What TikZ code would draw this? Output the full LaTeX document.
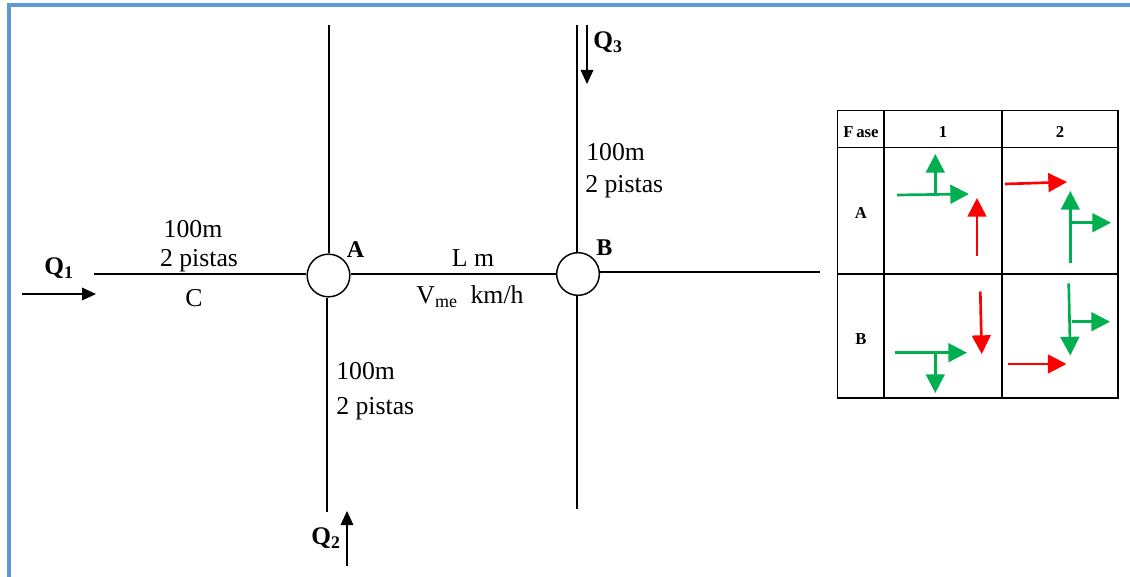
\documentclass[tikz,border=0pt]{standalone}
\usepackage{fontspec}
\setmainfont{Liberation Serif}
\usetikzlibrary{arrows.meta}
\definecolor{framecol}{HTML}{5B9BD5}
\definecolor{gocol}{HTML}{00B050}
\definecolor{stopcol}{HTML}{FF0000}
\tikzset{
	junction/.style 2 args={circle,draw,line width=1.1pt,minimum size=32pt,inner sep=0pt,label={[label distance=-2pt,font=\fontsize{18}{19}\selectfont\bfseries]#1:{#2}}},
	road/.style={line width=1.1pt},
	flow/.style={line width=0.9pt,-{Triangle[length=10.5pt,width=9.5pt]}},
	txt/.style={font=\fontsize{19.3}{20}\selectfont,inner sep=0pt},
	qtxt/.style={font=\fontsize{19}{20}\selectfont\bfseries,inner sep=0pt},
	cell/.style 2 args={draw,line width=0.9pt,minimum width=#1,minimum height=#2,inner sep=0pt,text height=12.5pt,text depth=0pt,font=\fontsize{12.5}{13}\selectfont\bfseries},
	garrow/.style={draw=gocol,line width=2pt,-{Triangle[length=14pt,width=14pt]}},
	rarrow/.style={draw=stopcol,line width=2pt,-{Triangle[length=14pt,width=14pt]}}
}

\begin{document}
\begin{tikzpicture}[x=0.75pt,y=-0.75pt]
	\useasboundingbox (0,0) rectangle (1130,577);
	\draw[framecol,line width=3pt] (9,577) -- (9,5) -- (1130,5);

	\node [junction={45}{A}] (A) at (328.5,275.5) {};
	\node [junction={45}{B}] (B) at (578,274) {};

	\coordinate (west) at (94,274);
	\coordinate (northA) at (329,25);
	\coordinate (southA) at (327,512);
	\coordinate (northB) at (577,25);
	\coordinate (southB) at (577,509);
	\coordinate (east) at (820,272);

	\draw[road] (west) -- (A.west |- west);
	\draw[road] (A.east |- B.west) -- (B.west);
	\draw[road] (B.east |- east) -- (east);
	\draw[road] (northA) -- (northA |- A.north);
	\draw[road] (southA |- A.south) -- (southA);
	\draw[road] (northB) -- (northB |- B.north);
	\draw[road] (southB |- B.south) -- (southB);

	\coordinate (q1a) at (22,294);
	\coordinate (q1b) at (96,294);
	\coordinate (q2a) at (347,566);
	\coordinate (q2b) at (347,511);
	\coordinate (q3a) at (587,25);
	\coordinate (q3b) at (587,84);
	\draw[flow] (q1a) -- (q1b);
	\draw[flow] (q2a) -- (q2b);
	\draw[flow] (q3a) -- (q3b);

	\node [qtxt] (q1) at (59,268) {Q\textsubscript{1}};
	\node [qtxt] (q2) at (326,538) {Q\textsubscript{2}};
	\node [qtxt] (q3) at (608,42) {Q\textsubscript{3}};

	\node [txt] (west1) at (193,229) {100m};
	\node [txt] (west2) at (199,261) {2 pistas};
	\node [txt] (westc) at (194,298) {C};
	\node [txt] (mid1) at (473,258) {L m};
	\node [txt] (mid2) at (470,297) {V\textsubscript{me}\ \ km/h};
	\node [txt,anchor=west] (north1) at (586,152) {100m};
	\node [txt,anchor=west] (north2) at (585,187) {2 pistas};
	\node [txt,anchor=west] (south1) at (336,371) {100m};
	\node [txt,anchor=west] (south2) at (336,409) {2 pistas};

	% fases
	\node [cell={35pt}{27.5pt}] (fase) at (861,129) {F\,ase};
	\node [cell={88.5pt}{27.5pt}] (col1) at (943,129) {1};
	\node [cell={87pt}{27.5pt}] (col2) at (1060,129) {2};
	\node [cell={35pt}{95pt}] (rowA) at (861,210.5) {A};
	\node [cell={88.5pt}{95pt}] (a1) at (943,210.5) {};
	\node [cell={87pt}{95pt}] (a2) at (1060,210.5) {};
	\node [cell={35pt}{93pt}] (rowB) at (861,336) {B};
	\node [cell={88.5pt}{93pt}] (b1) at (943,336) {};
	\node [cell={87pt}{93pt}] (b2) at (1060,336) {};

	\coordinate (a1g) at (897,195);
	\coordinate (a1h) at (969,194);
	\coordinate (a1i) at (935.3,194);
	\coordinate (a1j) at (935.3,154);
	\coordinate (a1r) at (977,256);
	\coordinate (a1s) at (977,198);
	\draw[garrow] (a1g) -- (a1h);
	\draw[garrow] (a1i) -- (a1j);
	\draw[rarrow] (a1r) -- (a1s);

	\coordinate (a2r) at (1005,184);
	\coordinate (a2s) at (1067,182);
	\coordinate (a2g) at (1070.3,262.5);
	\coordinate (a2h) at (1070.3,191);
	\coordinate (a2i) at (1070.3,222.7);
	\coordinate (a2j) at (1111,222.7);
	\draw[rarrow] (a2r) -- (a2s);
	\draw[garrow] (a2g) -- (a2h);
	\draw[garrow] (a2i) -- (a2j);

	\coordinate (b1r) at (980.3,291.5);
	\coordinate (b1s) at (981.7,354);
	\coordinate (b1g) at (895.3,352.7);
	\coordinate (b1h) at (967,352.7);
	\coordinate (b1i) at (935.3,352.7);
	\coordinate (b1j) at (935.3,393);
	\draw[rarrow] (b1r) -- (b1s);
	\draw[garrow] (b1g) -- (b1h);
	\draw[garrow] (b1i) -- (b1j);

	\coordinate (b2g) at (1068.7,283.3);
	\coordinate (b2h) at (1070.3,355.5);
	\coordinate (b2i) at (1071.7,321.7);
	\coordinate (b2j) at (1110,321.7);
	\coordinate (b2r) at (1007.7,364);
	\coordinate (b2s) at (1066.5,364);
	\draw[garrow] (b2g) -- (b2h);
	\draw[garrow] (b2i) -- (b2j);
	\draw[rarrow] (b2r) -- (b2s);
\end{tikzpicture}
\end{document}
